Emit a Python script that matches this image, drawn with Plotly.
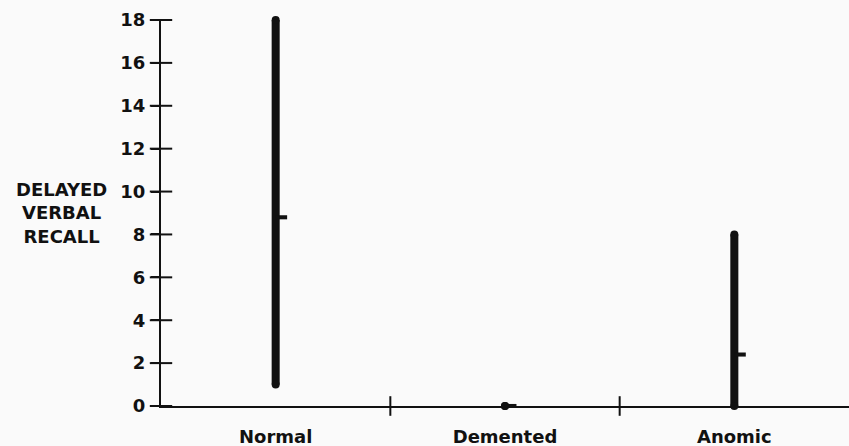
import plotly.graph_objects as go

# Delayed verbal recall scores per group: range (min..max) and mean
groups = ["Normal", "Demented", "Anomic"]
score_min = [1.0, 0.0, 0.0]
score_max = [18.0, 0.0, 8.0]
score_mean = [8.8, 0.0, 2.4]

y_ticks = [0, 2, 4, 6, 8, 10, 12, 14, 16, 18]
group_pos = list(range(len(groups)))
boundaries = [0.5, 1.5]
x_left = -0.5

FONT = "DejaVu Sans"
INK = "#111111"
BG = "#fafafa"
FS = 18

fig = go.Figure()

# vertical range bars
fig.add_trace(go.Bar(
    x=group_pos,
    base=score_min,
    y=[hi - lo for lo, hi in zip(score_min, score_max)],
    width=0.035,
    marker=dict(color=INK, line=dict(width=0)),
    hoverinfo="skip",
))

# rounded ends of the range bars
fig.add_trace(go.Scatter(
    x=group_pos + group_pos,
    y=score_min + score_max,
    mode="markers",
    marker=dict(symbol="circle", size=8, color=INK, line=dict(width=0)),
    cliponaxis=False,
    hoverinfo="skip",
))

# mean stub to the right of each range bar
stub = 0.19
fig.add_trace(go.Bar(
    x=group_pos,
    base=[m - stub / 2 for m in score_mean],
    y=[stub] * len(groups),
    width=0.05,
    offset=0,
    marker=dict(color=INK, line=dict(width=0)),
    hoverinfo="skip",
))

# tick marks crossing the value axis
fig.add_trace(go.Scatter(
    x=[x_left] * len(y_ticks), y=y_ticks,
    mode="markers",
    marker=dict(symbol="line-ew", size=16, color=INK,
                line=dict(color=INK, width=2)),
    cliponaxis=False,
    hoverinfo="skip",
))

# group dividers crossing the category axis
fig.add_trace(go.Scatter(
    x=boundaries, y=[0] * len(boundaries),
    mode="markers",
    marker=dict(symbol="line-ns", size=14, color=INK,
                line=dict(color=INK, width=2)),
    cliponaxis=False,
    hoverinfo="skip",
))

fig.update_layout(
    width=849, height=446,
    margin=dict(l=161, r=0, t=20, b=40),
    paper_bgcolor=BG, plot_bgcolor=BG,
    barmode="overlay",
    showlegend=False,
    font=dict(family=FONT, size=FS, color=INK),
    xaxis=dict(
        range=[-0.5, 2.5], tickvals=group_pos, ticktext=groups,
        ticks="", showline=True, linecolor=INK, linewidth=2,
        showgrid=False, zeroline=False, ticklabelstandoff=13,
        automargin=False,
        tickfont=dict(family=FONT, size=FS, color=INK, weight="bold"),
    ),
    yaxis=dict(
        range=[0, 18], tickvals=y_ticks,
        ticks="outside", ticklen=8, tickwidth=2, tickcolor=INK,
        showline=True, linecolor=INK, linewidth=2,
        showgrid=False, zeroline=False, ticklabelstandoff=2,
        automargin=False,
        tickfont=dict(family=FONT, size=FS, color=INK, weight="bold"),
    ),
)

fig.add_annotation(
    text="DELAYED<br>VERBAL<br>RECALL",
    xref="paper", yref="y", x=-0.145, y=9.0,
    xanchor="center", yanchor="middle", align="center",
    showarrow=False,
    font=dict(family=FONT, size=FS, color=INK, weight="bold"),
)

fig.write_html("out.html")
